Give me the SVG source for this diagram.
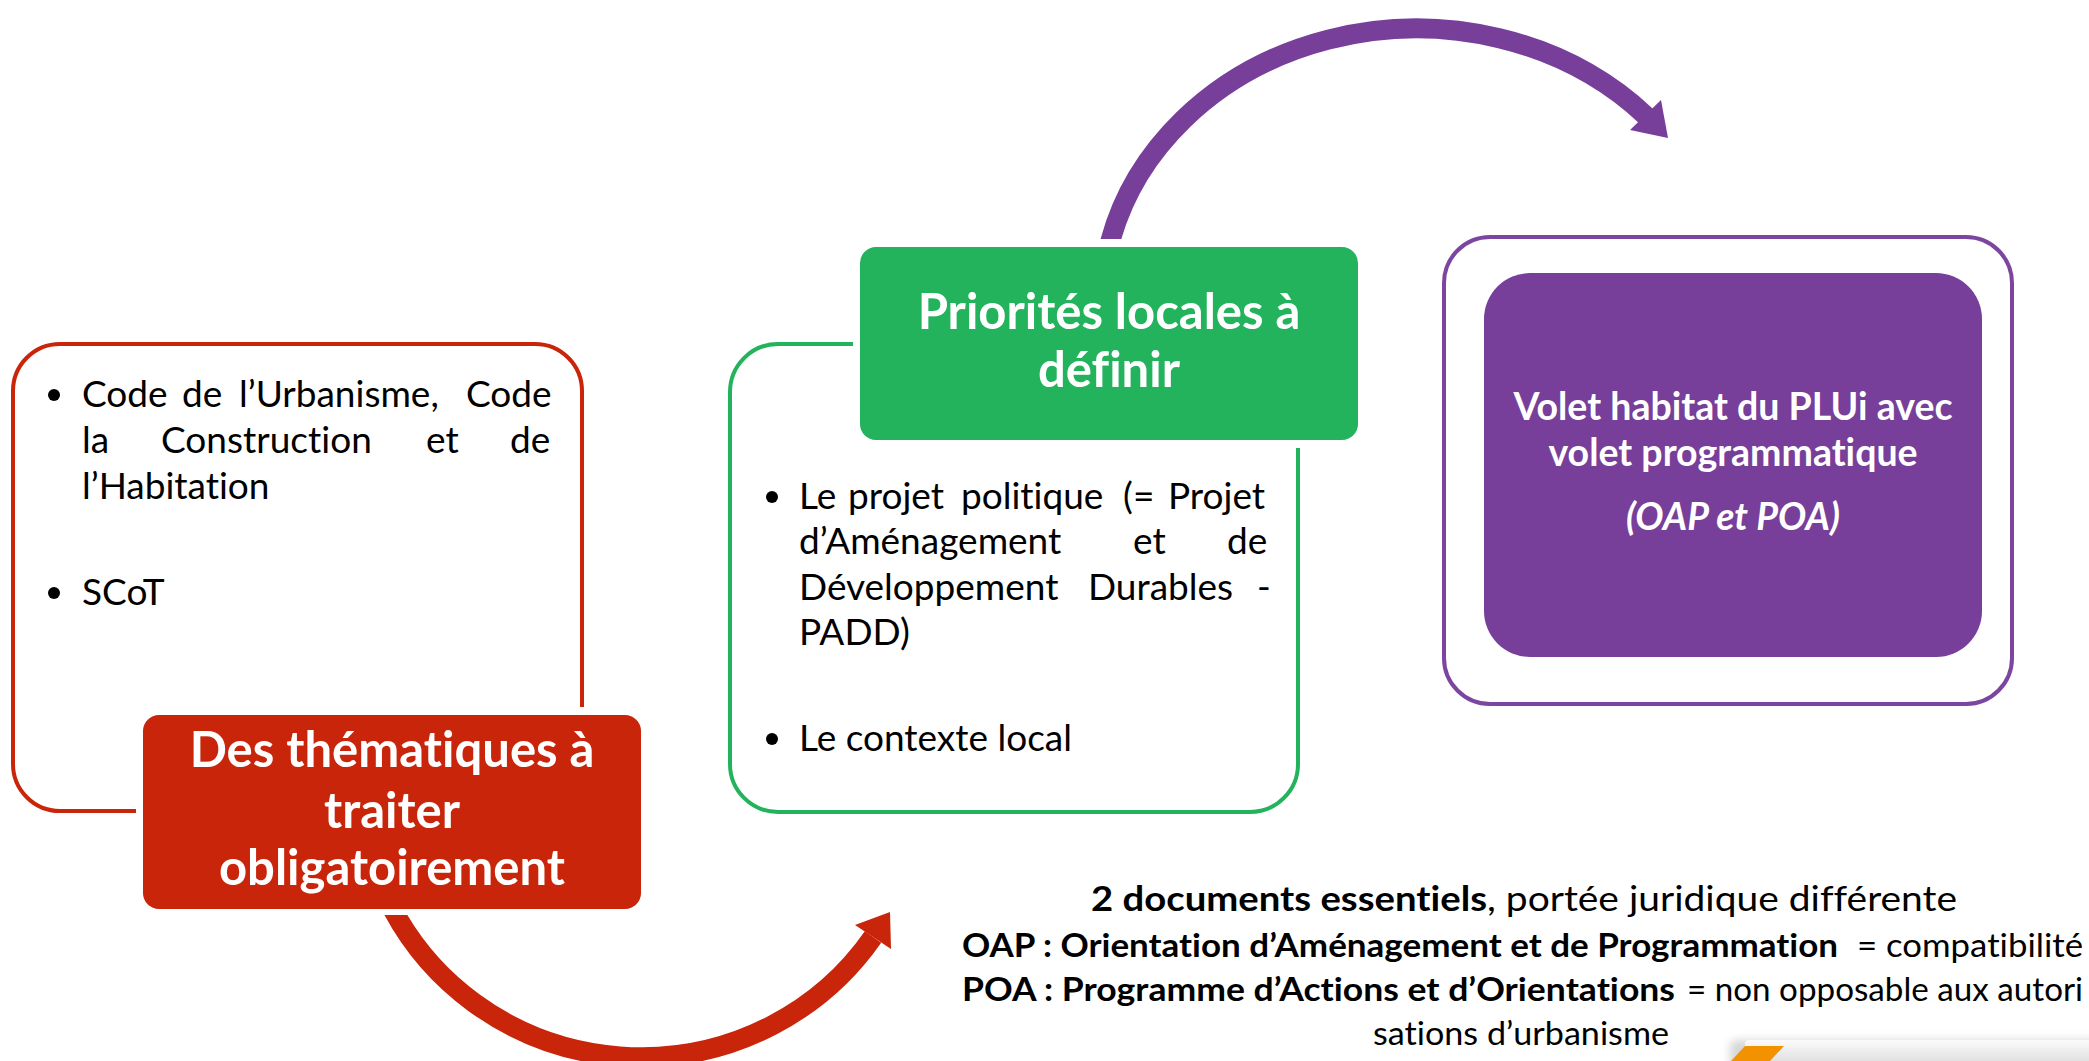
<svg xmlns="http://www.w3.org/2000/svg" width="2089" height="1061" viewBox="0 0 2089 1061">
<style>
  text{font-variant-ligatures:none}
  .body{font-family:Lato,"Open Sans","Liberation Sans",sans-serif;font-size:37px;fill:#000}
  .head{font-family:Lato,"Open Sans","Liberation Sans",sans-serif;font-weight:bold;fill:#fff;text-anchor:middle}
  .h1{font-size:49px}
  .h2{font-size:37.5px}
  .note{font-family:Lato,"Open Sans","Liberation Sans",sans-serif;fill:#000}
  .b{font-weight:bold}
  .redline{fill:none;stroke:#C8250A;stroke-width:4}
  .greenline{fill:none;stroke:#23B35D;stroke-width:4}
  .purpleline{fill:none;stroke:#7B45A0;stroke-width:4}
</style>
<defs>
  <clipPath id="clipRed"><rect x="0" y="915" width="2089" height="200"/></clipPath>
  <clipPath id="clipPurple"><rect x="0" y="0" width="2089" height="239"/></clipPath>
  <linearGradient id="bar" x1="0" y1="0" x2="0" y2="1">
    <stop offset="0" stop-color="#fbfbfb"/>
    <stop offset="1" stop-color="#d6d6d6"/>
  </linearGradient>
  <filter id="soft" x="-20%" y="-50%" width="140%" height="200%"><feGaussianBlur stdDeviation="4"/></filter>
</defs>
<rect width="2089" height="1061" fill="#fff"/>

<g id="connectors">
  <path d="M1107,255 A315,278 0 0 1 1646,116" fill="none" stroke="#773F9A" stroke-width="20" clip-path="url(#clipPurple)"/>
  <polygon points="1661,100 1668,138 1630,130" fill="#773F9A"/>
  <path d="M388,900 A281,277 0 0 0 873,937" fill="none" stroke="#C8250A" stroke-width="20" clip-path="url(#clipRed)"/>
  <polygon points="890,912 891,949 855,925" fill="#C8250A"/>
</g>

<g id="node-obligatoire">
  <path class="redline" d="M136,811 H60 A47,47 0 0 1 13,764 V391 A47,47 0 0 1 60,344 H535 A47,47 0 0 1 582,391 V707"/>
  <circle cx="54" cy="395" r="6"/>
  <text class="body" y="407"><tspan x="82">Code</tspan><tspan x="182">de</tspan><tspan x="239">l’Urbanisme,</tspan><tspan x="466">Code</tspan></text>
  <text class="body" y="453"><tspan x="82">la</tspan><tspan x="161">Construction</tspan><tspan x="426">et</tspan><tspan x="510">de</tspan></text>
  <text class="body" x="82" y="499">l’Habitation</text>
  <circle cx="54" cy="593" r="6"/>
  <text class="body" x="82" y="605">SCoT</text>
  <rect x="143" y="715" width="498" height="194" rx="16" fill="#C8250A"/>
  <text class="head h1" x="392" y="767">Des thématiques à</text>
  <text class="head h1" x="392" y="828">traiter</text>
  <text class="head h1" x="392" y="885">obligatoirement</text>
</g>

<g id="node-priorites">
  <path class="greenline" d="M853,344 H778 A48,48 0 0 0 730,392 V764 A48,48 0 0 0 778,812 H1250 A48,48 0 0 0 1298,764 V448"/>
  <rect x="860" y="247" width="498" height="193" rx="16" fill="#23B35D"/>
  <text class="head h1" x="1109" y="329">Priorités locales à</text>
  <text class="head h1" x="1109" y="387">définir</text>
  <circle cx="772" cy="497" r="6"/>
  <text class="body" y="509"><tspan x="799">Le</tspan><tspan x="848">projet</tspan><tspan x="961">politique</tspan><tspan x="1123">(=</tspan><tspan x="1168">Projet</tspan></text>
  <text class="body" y="554"><tspan x="799">d’Aménagement</tspan><tspan x="1133">et</tspan><tspan x="1227">de</tspan></text>
  <text class="body" y="600"><tspan x="799">Développement</tspan><tspan x="1088">Durables</tspan><tspan x="1257">-</tspan></text>
  <text class="body" x="799" y="645">PADD)</text>
  <circle cx="772" cy="739" r="6"/>
  <text class="body" x="799" y="751">Le contexte local</text>
</g>

<g id="node-volet">
  <rect class="purpleline" x="1444" y="237" width="568" height="467" rx="46" fill="#fff"/>
  <rect x="1484" y="273" width="498" height="384" rx="46" fill="#773F9A"/>
  <text class="head h2" x="1733" y="420">Volet habitat du PLUi avec</text>
  <text class="head h2" x="1733" y="466">volet programmatique</text>
  <text class="head h2" x="1733" y="530" font-style="italic">(OAP et POA)</text>
</g>

<g id="note">
  <text class="note b" x="1091" y="911" font-size="34" textLength="396" lengthAdjust="spacingAndGlyphs">2 documents essentiels</text>
  <text class="note" x="1487" y="911" font-size="34" textLength="470" lengthAdjust="spacingAndGlyphs">, portée juridique différente</text>
  <text class="note b" x="962" y="957" font-size="32" textLength="876" lengthAdjust="spacingAndGlyphs">OAP : Orientation d’Aménagement et de Programmation</text>
  <text class="note" x="1857" y="957" font-size="32" textLength="226" lengthAdjust="spacingAndGlyphs">= compatibilité</text>
  <text class="note b" x="962" y="1001" font-size="32" textLength="713" lengthAdjust="spacingAndGlyphs">POA : Programme d’Actions et d’Orientations</text>
  <text class="note" x="1687" y="1001" font-size="32" textLength="396" lengthAdjust="spacingAndGlyphs">= non opposable aux autori</text>
  <text class="note" x="1373" y="1045" font-size="32" textLength="296" lengthAdjust="spacingAndGlyphs">sations d’urbanisme</text>
</g>

<g id="corner-logo">
  <rect x="1730" y="1040" width="380" height="30" rx="6" fill="#bbb" filter="url(#soft)" opacity="0.6"/>
  <rect x="1745" y="1040" width="350" height="30" rx="4" fill="url(#bar)"/>
  <polygon points="1745,1046 1784,1046 1770,1061 1731,1061" fill="#F39200"/>
</g>
</svg>
